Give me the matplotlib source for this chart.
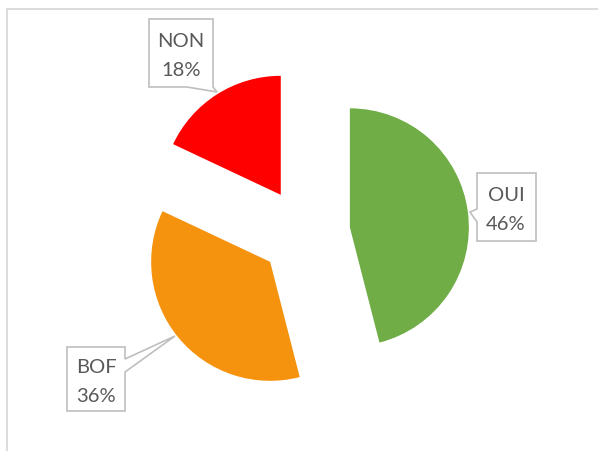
import matplotlib.pyplot as plt
from matplotlib.patches import Polygon

labels = ['OUI', 'BOF', 'NON']
values = [46, 36, 18]
colors = ['#70AD47', '#F5930F', '#FF0000']

plt.rcParams['font.family'] = ['Lato', 'DejaVu Sans']

W, H = 598, 452
fig = plt.figure(figsize=(W / 100, H / 100), dpi=100)

# pie: centre ~ (305, 234) px, radius 119 px
cx, cy, r = 305, 234, 119
ax = fig.add_axes([0, 0, 1, 1])
ax.pie(values, colors=colors, startangle=90, counterclock=False,
       explode=[0.38] * 3, radius=1)
ax.set_xlim(-cx / r, (W - cx) / r)
ax.set_ylim(-(H - cy) / r, cy / r)
ax.set_aspect('auto')
ax.axis('off')

# overlay in pixel coords for frame and callouts
ov = fig.add_axes([0, 0, 1, 1], facecolor='none')
ov.set_xlim(0, W)
ov.set_ylim(H, 0)
ov.axis('off')

ov.plot([7, 7, W], [H, 10, 10], color='#D9D9D9', lw=1.3, solid_capstyle='butt')

callouts = {
    'NON': ([(149, 20), (213, 20), (213, 88), (217, 93), (187, 88), (149, 88)], (181, 56)),
    'OUI': ([(477, 174), (536, 174), (536, 242), (477, 242), (477, 223), (470, 213), (477, 210)], (506, 210)),
    'BOF': ([(67, 348), (125, 348), (125, 360), (175, 337), (125, 373), (125, 412), (67, 412)], (96, 382)),
}
total = sum(values)
for lab, v in zip(labels, values):
    pts, (tx, ty) = callouts[lab]
    ov.add_patch(Polygon(pts, closed=True, facecolor='white', edgecolor='#BFBFBF', lw=1.2))
    ov.text(tx, ty, f'{lab}\n{round(v / total * 100)}%', ha='center', va='center',
            fontsize=14.5, color='#595959', linespacing=1.8)

fig.savefig('out.png', dpi=100)
